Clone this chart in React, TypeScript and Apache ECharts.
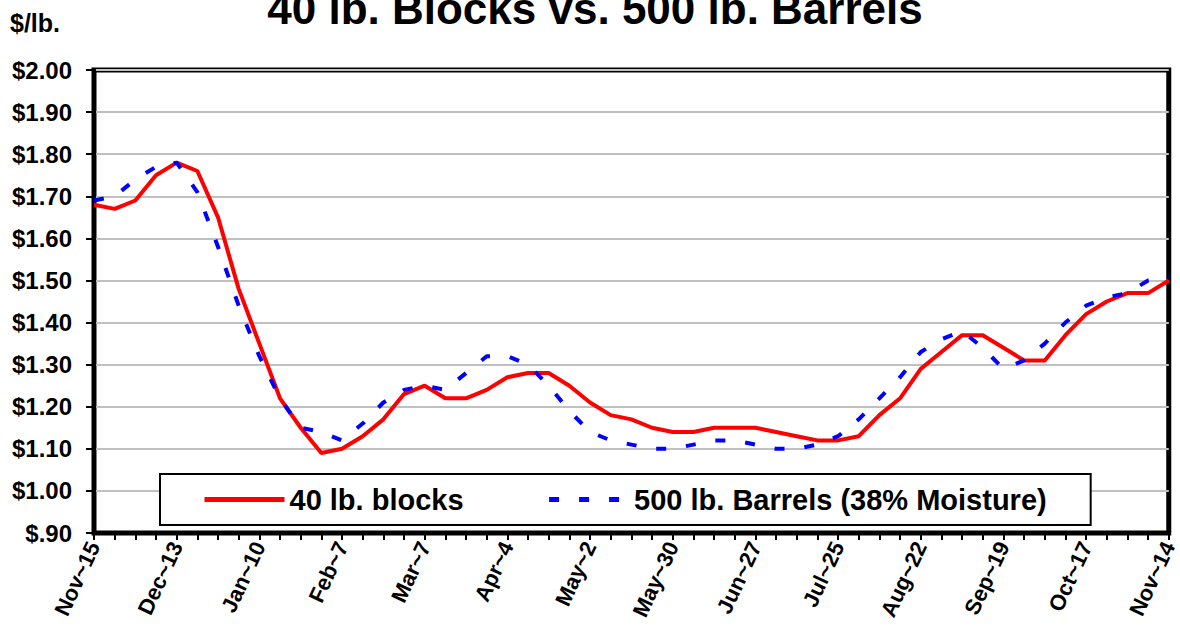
import React, { useEffect, useRef } from "react";
import * as echarts from "echarts";

const weeks: string[] = [
  "Nov~15", "Nov~22", "Nov~29", "Dec~6", "Dec~13", "Dec~20", "Dec~27", "Jan~3", "Jan~10", "Jan~17",
  "Jan~24", "Jan~31", "Feb~7", "Feb~14", "Feb~21", "Feb~28", "Mar~7", "Mar~14", "Mar~21", "Mar~28",
  "Apr~4", "Apr~11", "Apr~18", "Apr~25", "May~2", "May~9", "May~16", "May~23", "May~30", "Jun~6",
  "Jun~13", "Jun~20", "Jun~27", "Jul~4", "Jul~11", "Jul~18", "Jul~25", "Aug~1", "Aug~8", "Aug~15",
  "Aug~22", "Aug~29", "Sep~5", "Sep~12", "Sep~19", "Sep~26", "Oct~3", "Oct~10", "Oct~17", "Oct~24",
  "Oct~31", "Nov~7", "Nov~14",
];

const blocks: number[] = [
  1.68, 1.67, 1.69, 1.75, 1.78, 1.76, 1.65, 1.48, 1.35, 1.22,
  1.15, 1.09, 1.10, 1.13, 1.17, 1.23, 1.25, 1.22, 1.22, 1.24,
  1.27, 1.28, 1.28, 1.25, 1.21, 1.18, 1.17, 1.15, 1.14, 1.14,
  1.15, 1.15, 1.15, 1.14, 1.13, 1.12, 1.12, 1.13, 1.18, 1.22,
  1.29, 1.33, 1.37, 1.37, 1.34, 1.31, 1.31, 1.37, 1.42, 1.45,
  1.47, 1.47, 1.50,
];

const barrels: number[] = [
  1.69, 1.70, 1.74, 1.77, 1.78, 1.71, 1.58, 1.44, 1.32, 1.22,
  1.15, 1.14, 1.12, 1.16, 1.21, 1.24, 1.25, 1.24, 1.28, 1.32,
  1.32, 1.30, 1.25, 1.19, 1.14, 1.12, 1.11, 1.10, 1.10, 1.11,
  1.12, 1.12, 1.11, 1.10, 1.10, 1.11, 1.13, 1.17, 1.22, 1.27,
  1.33, 1.36, 1.38, 1.34, 1.29, 1.31, 1.35, 1.40, 1.44, 1.46,
  1.47, 1.50, 1.51,
];

const seriesNames: string[] = ["40 lb. blocks", "500 lb. Barrels (38% Moisture)"];
const titleText = "40 lb. Blocks vs. 500 lb. Barrels";
const unitText = "$/lb.";

const FONT = "Arial, 'Liberation Sans', sans-serif";

export default function App() {
  const ref = useRef<HTMLDivElement>(null);
  useEffect(() => {
    document.body.style.margin = "0";
    const chart = echarts.init(ref.current!, null, { renderer: "svg" });
    chart.setOption({
      animation: false,
      backgroundColor: "#ffffff",
      title: {
        text: titleText,
        left: 595,
        textAlign: "center",
        top: -14,
        padding: 0,
        textStyle: { fontFamily: FONT, fontWeight: "bold", fontSize: 44, color: "#000" },
      },
      graphic: [
        {
          type: "text",
          left: 10,
          top: 10,
          style: { text: unitText, fontFamily: FONT, fontWeight: "bold", fontSize: 25, fill: "#000" },
        },
      ],
      legend: {
        left: 160,
        top: 474,
        padding: [11, 44, 11, 42],
        itemGap: 83,
        itemWidth: 80,
        itemHeight: 14,
        backgroundColor: "#fff",
        borderColor: "#000",
        borderWidth: 2,
        itemStyle: { opacity: 0 },
        lineStyle: { width: 5 },
        textStyle: { fontFamily: FONT, fontWeight: "bold", fontSize: 29, color: "#000" },
        data: seriesNames,
      },
      grid: {
        left: 94,
        right: 2,
        top: 70,
        bottom: 97,
        show: true,
        borderColor: "#000",
        borderWidth: 5,
        backgroundColor: "#fff",
      },
      xAxis: {
        type: "category",
        data: weeks,
        boundaryGap: false,
        axisLine: { lineStyle: { color: "#000", width: 4 } },
        axisTick: { show: true, interval: 0, length: 7, inside: false, lineStyle: { color: "#000", width: 2 } },
        axisLabel: {
          interval: 3,
          rotate: 65,
          margin: 10,
          fontFamily: FONT,
          fontWeight: "bold",
          fontSize: 22,
          color: "#000",
        },
        splitLine: { show: false },
      },
      yAxis: {
        type: "value",
        min: 0.9,
        max: 2.0,
        interval: 0.1,
        axisLine: { show: true, lineStyle: { color: "#000", width: 4 } },
        axisTick: { show: true, length: 8, lineStyle: { color: "#000", width: 2 } },
        axisLabel: {
          margin: 22,
          fontFamily: FONT,
          fontWeight: "bold",
          fontSize: 24,
          color: "#000",
          formatter: (v: number) => (v < 1 ? "$." + Math.round(v * 100) : "$" + v.toFixed(2)),
        },
        splitLine: { show: true, lineStyle: { color: "#c0c0c0", width: 2 } },
      },
      series: [
        {
          name: seriesNames[0],
          type: "line",
          data: blocks,
          symbol: "none",
          z: 3,
          lineStyle: { color: "#ff0000", width: 4 },
          itemStyle: { color: "#ff0000" },
        },
        {
          name: seriesNames[1],
          type: "line",
          data: barrels,
          symbol: "none",
          z: 4,
          lineStyle: { color: "#0000ff", width: 4, type: [10, 20], cap: "butt" },
          itemStyle: { color: "#0000ff" },
        },
      ],
    });
    return () => chart.dispose();
  }, []);
  return <div ref={ref} style={{ width: 1180, height: 630 }} />;
}
